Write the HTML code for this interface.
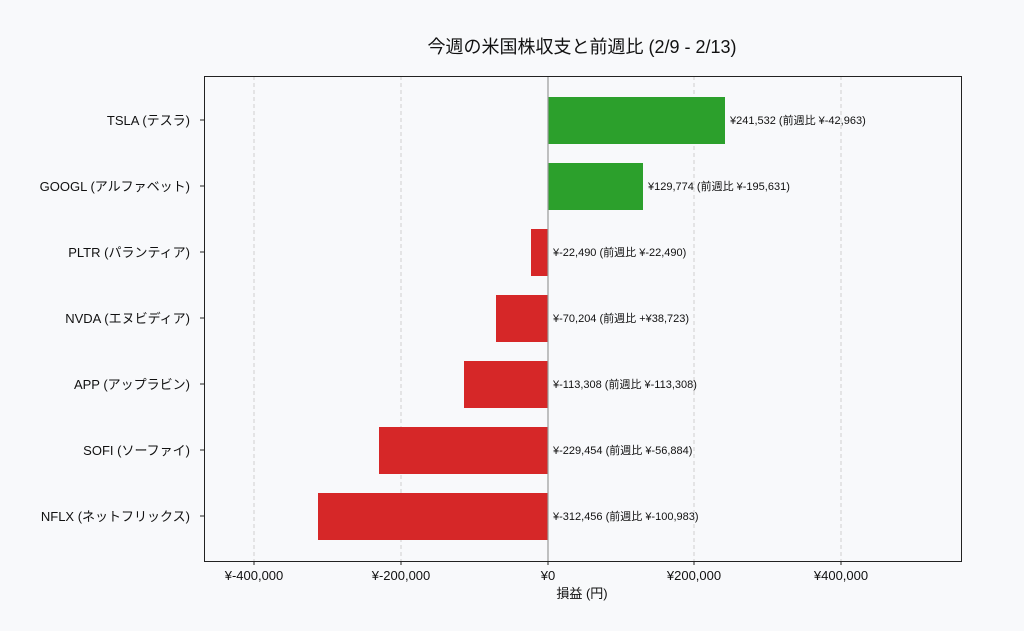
<!DOCTYPE html>
<html><head><meta charset="utf-8"><style>
html,body{margin:0;padding:0;background:#f8f9fb;}
svg{display:block;font-family:"Liberation Sans","Noto Sans CJK JP",sans-serif;}
</style></head><body>
<svg width="1024" height="631" viewBox="0 0 1024 631">
<rect width="1024" height="631" fill="#f8f9fb"/>
<text x="582" y="53" font-size="18" text-anchor="middle" fill="#111">今週の米国株収支と前週比 (2/9 - 2/13)</text>
<g stroke="#cfcfcf" stroke-dasharray="4,3" stroke-width="1">
<line x1="254" y1="76" x2="254" y2="561"/><line x1="401" y1="76" x2="401" y2="561"/>
<line x1="694" y1="76" x2="694" y2="561"/><line x1="841" y1="76" x2="841" y2="561"/>
</g>
<g fill="#2ca02c">
<rect x="548" y="97" width="177" height="47"/>
<rect x="548" y="163" width="95" height="47"/>
</g>
<g fill="#d62728">
<rect x="531" y="229" width="17" height="47"/>
<rect x="496" y="295" width="52" height="47"/>
<rect x="464" y="361" width="84" height="47"/>
<rect x="379" y="427" width="169" height="47"/>
<rect x="318" y="493" width="230" height="47"/>
</g>
<line x1="548" y1="76" x2="548" y2="561" stroke="#999" stroke-width="1.2"/>
<rect x="204.5" y="76.5" width="757" height="485" fill="none" stroke="#222" stroke-width="1"/>
<g font-size="11" fill="#111">
<text x="730" y="124">¥241,532  (前週比 ¥-42,963)</text>
<text x="648" y="190">¥129,774  (前週比 ¥-195,631)</text>
<text x="553" y="256">¥-22,490  (前週比 ¥-22,490)</text>
<text x="553" y="322">¥-70,204  (前週比 +¥38,723)</text>
<text x="553" y="388">¥-113,308  (前週比 ¥-113,308)</text>
<text x="553" y="454">¥-229,454  (前週比 ¥-56,884)</text>
<text x="553" y="520">¥-312,456  (前週比 ¥-100,983)</text>
</g>
<g font-size="13" fill="#111" text-anchor="end">
<text x="190" y="125">TSLA (テスラ)</text>
<text x="190" y="191">GOOGL (アルファベット)</text>
<text x="190" y="257">PLTR (パランティア)</text>
<text x="190" y="323">NVDA (エヌビディア)</text>
<text x="190" y="389">APP (アップラビン)</text>
<text x="190" y="455">SOFI (ソーファイ)</text>
<text x="190" y="521">NFLX (ネットフリックス)</text>
</g>
<g stroke="#222"><line x1="200" y1="120" x2="204" y2="120"/><line x1="200" y1="186" x2="204" y2="186"/><line x1="200" y1="252" x2="204" y2="252"/><line x1="200" y1="318" x2="204" y2="318"/><line x1="200" y1="384" x2="204" y2="384"/><line x1="200" y1="450" x2="204" y2="450"/><line x1="200" y1="516" x2="204" y2="516"/>
<line x1="254" y1="561" x2="254" y2="565"/><line x1="401" y1="561" x2="401" y2="565"/><line x1="548" y1="561" x2="548" y2="565"/><line x1="694" y1="561" x2="694" y2="565"/><line x1="841" y1="561" x2="841" y2="565"/></g>
<g font-size="13" fill="#111" text-anchor="middle">
<text x="254" y="580">¥-400,000</text><text x="401" y="580">¥-200,000</text><text x="548" y="580">¥0</text><text x="694" y="580">¥200,000</text><text x="841" y="580">¥400,000</text>
<text x="582" y="598">損益 (円)</text>
</g>
</svg>
</body></html>
